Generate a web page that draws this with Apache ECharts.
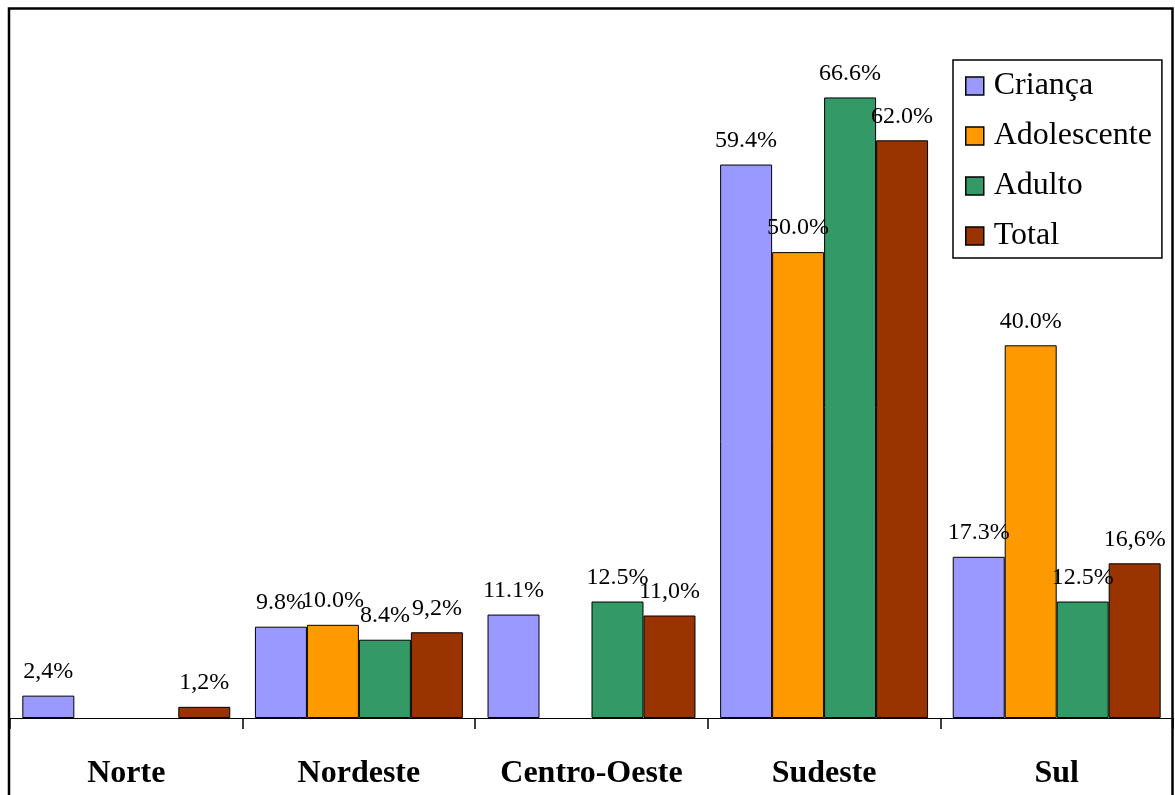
<!DOCTYPE html>
<html>
<head>
<meta charset="utf-8">
<script src="https://cdn.jsdelivr.net/npm/echarts@6/dist/echarts.min.js"></script>
<style>
  html, body { margin: 0; padding: 0; background: #fff; }
  #chart { width: 1175px; height: 795px; }
</style>
</head>
<body>
<div id="chart"></div>
<script>
// Regions (categories)
const regions = ['Norte', 'Nordeste', 'Centro-Oeste', 'Sudeste', 'Sul'];

// Percentages per age group (null = no case)
const crianca     = [2.4, 9.8, 11.1, 59.4, 17.3];
const adolescente = [null, 10.0, null, 50.0, 40.0];
const adulto      = [null, 8.4, 12.5, 66.6, 12.5];
const total       = [1.2, 9.2, 11.0, 62.0, 16.6];

// Decimal mark used by each printed label
const criancaSep     = [',', '.', '.', '.', '.'];
const adolescenteSep = ['.', '.', '.', '.', '.'];
const adultoSep      = ['.', '.', '.', '.', '.'];
const totalSep       = [',', ',', ',', '.', ','];

const FONT = "'Liberation Serif', 'Times New Roman', serif";

function pctLabel(seps) {
  return function (p) {
    if (p.value == null) return '';
    return p.value.toFixed(1).replace('.', seps[p.dataIndex]) + '%';
  };
}

function barSeries(name, data, color, seps) {
  return {
    name: name,
    type: 'bar',
    data: data,
    barGap: '0%',
    barCategoryGap: '10.6%',
    itemStyle: { color: color, borderColor: '#000', borderWidth: 1 },
    label: {
      show: true,
      position: 'top',
      distance: 12,
      fontFamily: FONT,
      fontSize: 24,
      color: '#000',
      formatter: pctLabel(seps)
    }
  };
}

const chart = echarts.init(document.getElementById('chart'), null, { renderer: 'canvas' });
chart.setOption({
  animation: false,
  backgroundColor: '#fff',
  textStyle: { fontFamily: FONT },
  grid: { left: 10, right: 2, top: 8, bottom: 77, containLabel: false },
  xAxis: {
    type: 'category',
    data: regions,
    axisLine: { show: true, lineStyle: { color: '#000', width: 1 } },
    axisTick: { show: true, length: 11, interval: 0, lineStyle: { color: '#000', width: 1.5 } },
    axisLabel: {
      interval: 0,
      margin: 40,
      fontFamily: FONT,
      fontSize: 32,
      fontWeight: 'bold',
      color: '#000'
    }
  },
  yAxis: {
    type: 'value',
    min: 0,
    max: 76.2,
    show: false,
    splitLine: { show: false }
  },
  legend: {
    orient: 'vertical',
    left: 953,
    top: 60,
    padding: [10, 10, 6, 12],
    itemGap: 18,
    itemWidth: 18,
    itemHeight: 18,
    icon: 'rect',
    backgroundColor: '#fff',
    borderColor: '#000',
    borderWidth: 1.5,
    borderRadius: 0,
    itemStyle: { borderColor: '#000', borderWidth: 1.5 },
    textStyle: { fontFamily: FONT, fontSize: 32, color: '#000', padding: [0, 0, 0, 5] },
    data: ['Criança', 'Adolescente', 'Adulto', 'Total']
  },
  graphic: [{
    type: 'rect',
    silent: true,
    z: 100,
    shape: { x: 9, y: 8.5, width: 1163.5, height: 800 },
    style: { fill: null, stroke: '#000', lineWidth: 2.5 }
  }],
  series: [
    barSeries('Criança', crianca, '#9999FF', criancaSep),
    barSeries('Adolescente', adolescente, '#FF9900', adolescenteSep),
    barSeries('Adulto', adulto, '#339966', adultoSep),
    barSeries('Total', total, '#993300', totalSep)
  ]
});
</script>
</body>
</html>
